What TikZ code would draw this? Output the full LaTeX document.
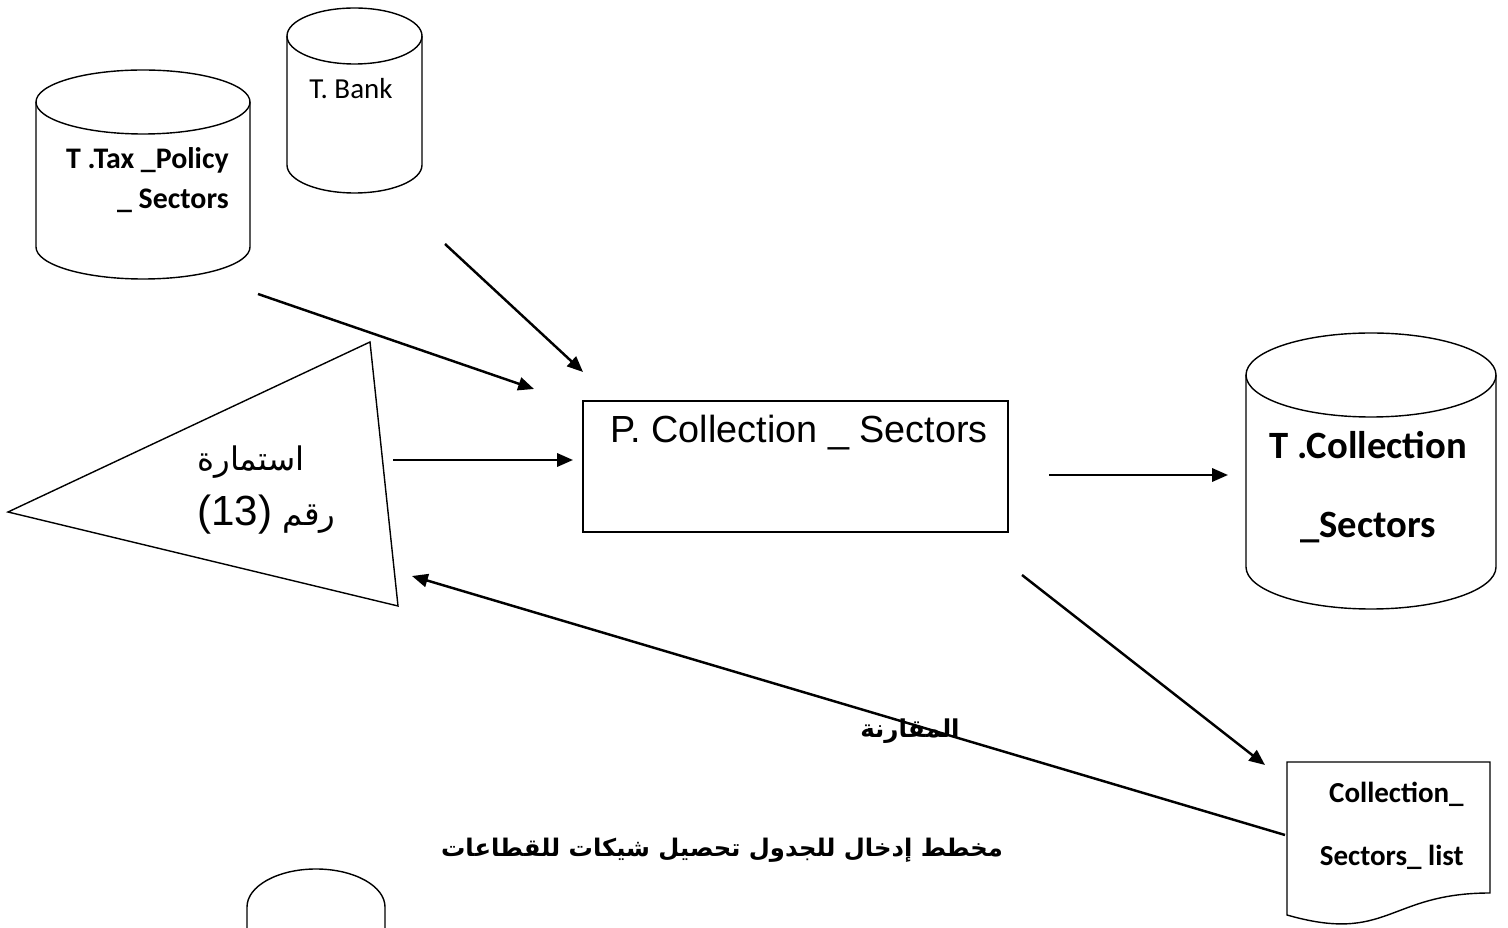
\documentclass[tikz,border=0pt]{standalone}
\usepackage{fontspec}
\setmainfont{Liberation Sans}
\newfontfamily\calibri{Carlito}
\newfontfamily\arabicfont[Script=Arabic]{DejaVu Sans}
\TeXXeTstate=1
\usetikzlibrary{arrows.meta}

\tikzset{
	shapeline/.style={line width=0.8pt},
	flowarrow/.style={draw,line width=1.4pt,-{Triangle[length=9pt,width=7.5pt]}},
}

% cylinder: centre x, top centre y, bottom centre y, x radius, y radius
\newcommand{\dbtable}[5]{%
	\draw[shapeline] (#1,#2) ellipse[x radius=#4, y radius=#5];
	\draw[shapeline] ({#1-#4},#2) -- ({#1-#4},#3) arc[start angle=180, end angle=0, x radius=#4, y radius=#5] -- ({#1+#4},#2);
}

\begin{document}
\begin{tikzpicture}[x=0.02cm,y=-0.02cm]
	\useasboundingbox (0,0) rectangle (1508,928);
	\clip (0,0) rectangle (1508,928);

	% tables
	\dbtable{143}{102}{247}{107}{32}
	\dbtable{354.5}{36}{165}{67.5}{28}
	\dbtable{1371}{375}{567}{125}{42}
	\draw[shapeline] (247,928) -- (247,907) arc[start angle=180, end angle=360, x radius=69, y radius=38] -- (385,928);

	% form and process
	\draw[shapeline] (8,512) -- (370,342) -- (398,606) -- cycle;
	\draw[shapeline] (1287,762) -- (1490,762) -- (1490,893) .. controls (1388,893) and (1388,944) .. (1287,915) -- cycle;

	\begin{scope}[every node/.style={inner sep=0pt}]
		\node[draw,shapeline,minimum width=8.5cm,minimum height=2.62cm] (proc) at (795.5,466.5) {};
		\node[font=\fontsize{21.5}{25}\selectfont] (proctext) at (799,433) {P. Collection \_ Sectors};
		\node[anchor=east,align=right,font=\calibri\bfseries\fontsize{17}{22.7}\selectfont] (taxtext) at (229,180) {T .Tax \_Policy\\\_ Sectors};
		\node[font=\calibri\fontsize{16.5}{19}\selectfont] (banktext) at (351,89) {T. Bank};
		\node[align=center,font=\calibri\bfseries\fontsize{22}{45.4}\selectfont] (colltext) at (1368,487) {T .Collection\\\_Sectors};
		\node[anchor=east,align=right,font=\calibri\bfseries\fontsize{16.5}{35.7}\selectfont] (listtext) at (1464,826) {Collection\_\\Sectors\_ list};
		\node[anchor=west,align=left,font=\fontsize{18.5}{31.2}\selectfont] (formtext) at (197,490) {{\arabicfont\beginR استمارة\endR}\\{\arabicfont\beginR رقم \beginL{\rmfamily\fontsize{24}{31.2}\selectfont(13)}\endL\endR}};
		\node[font=\arabicfont\bfseries\fontsize{14}{17}\selectfont] (cmptext) at (910,731) {\beginR المقارنة\endR};
		\node[font=\arabicfont\bfseries\fontsize{13.8}{17}\selectfont] (title) at (722,850) {\beginR مخطط إدخال للجدول تحصيل شيكات للقطاعات\endR};
	\end{scope}

	% arrow ends
	\coordinate (taxout) at (258,294);
	\coordinate (procin1) at (534,389);
	\coordinate (bankout) at (445,244);
	\coordinate (procin2) at (583,372);
	\coordinate (formout) at (393,460);
	\coordinate (procin3) at (573,460);
	\coordinate (procout1) at (1049,475);
	\coordinate (collin) at (1228,475);
	\coordinate (procout2) at (1022,575);
	\coordinate (listin) at (1265,765);
	\coordinate (listout) at (1285,835);
	\coordinate (formin) at (412,576);

	\begin{scope}[every edge/.style={flowarrow}]
		\path (taxout) edge (procin1);
		\path (bankout) edge (procin2);
		\path (formout) edge (procin3);
		\path (procout1) edge (collin);
		\path (procout2) edge (listin);
		\path (listout) edge (formin);
	\end{scope}
\end{tikzpicture}
\end{document}
